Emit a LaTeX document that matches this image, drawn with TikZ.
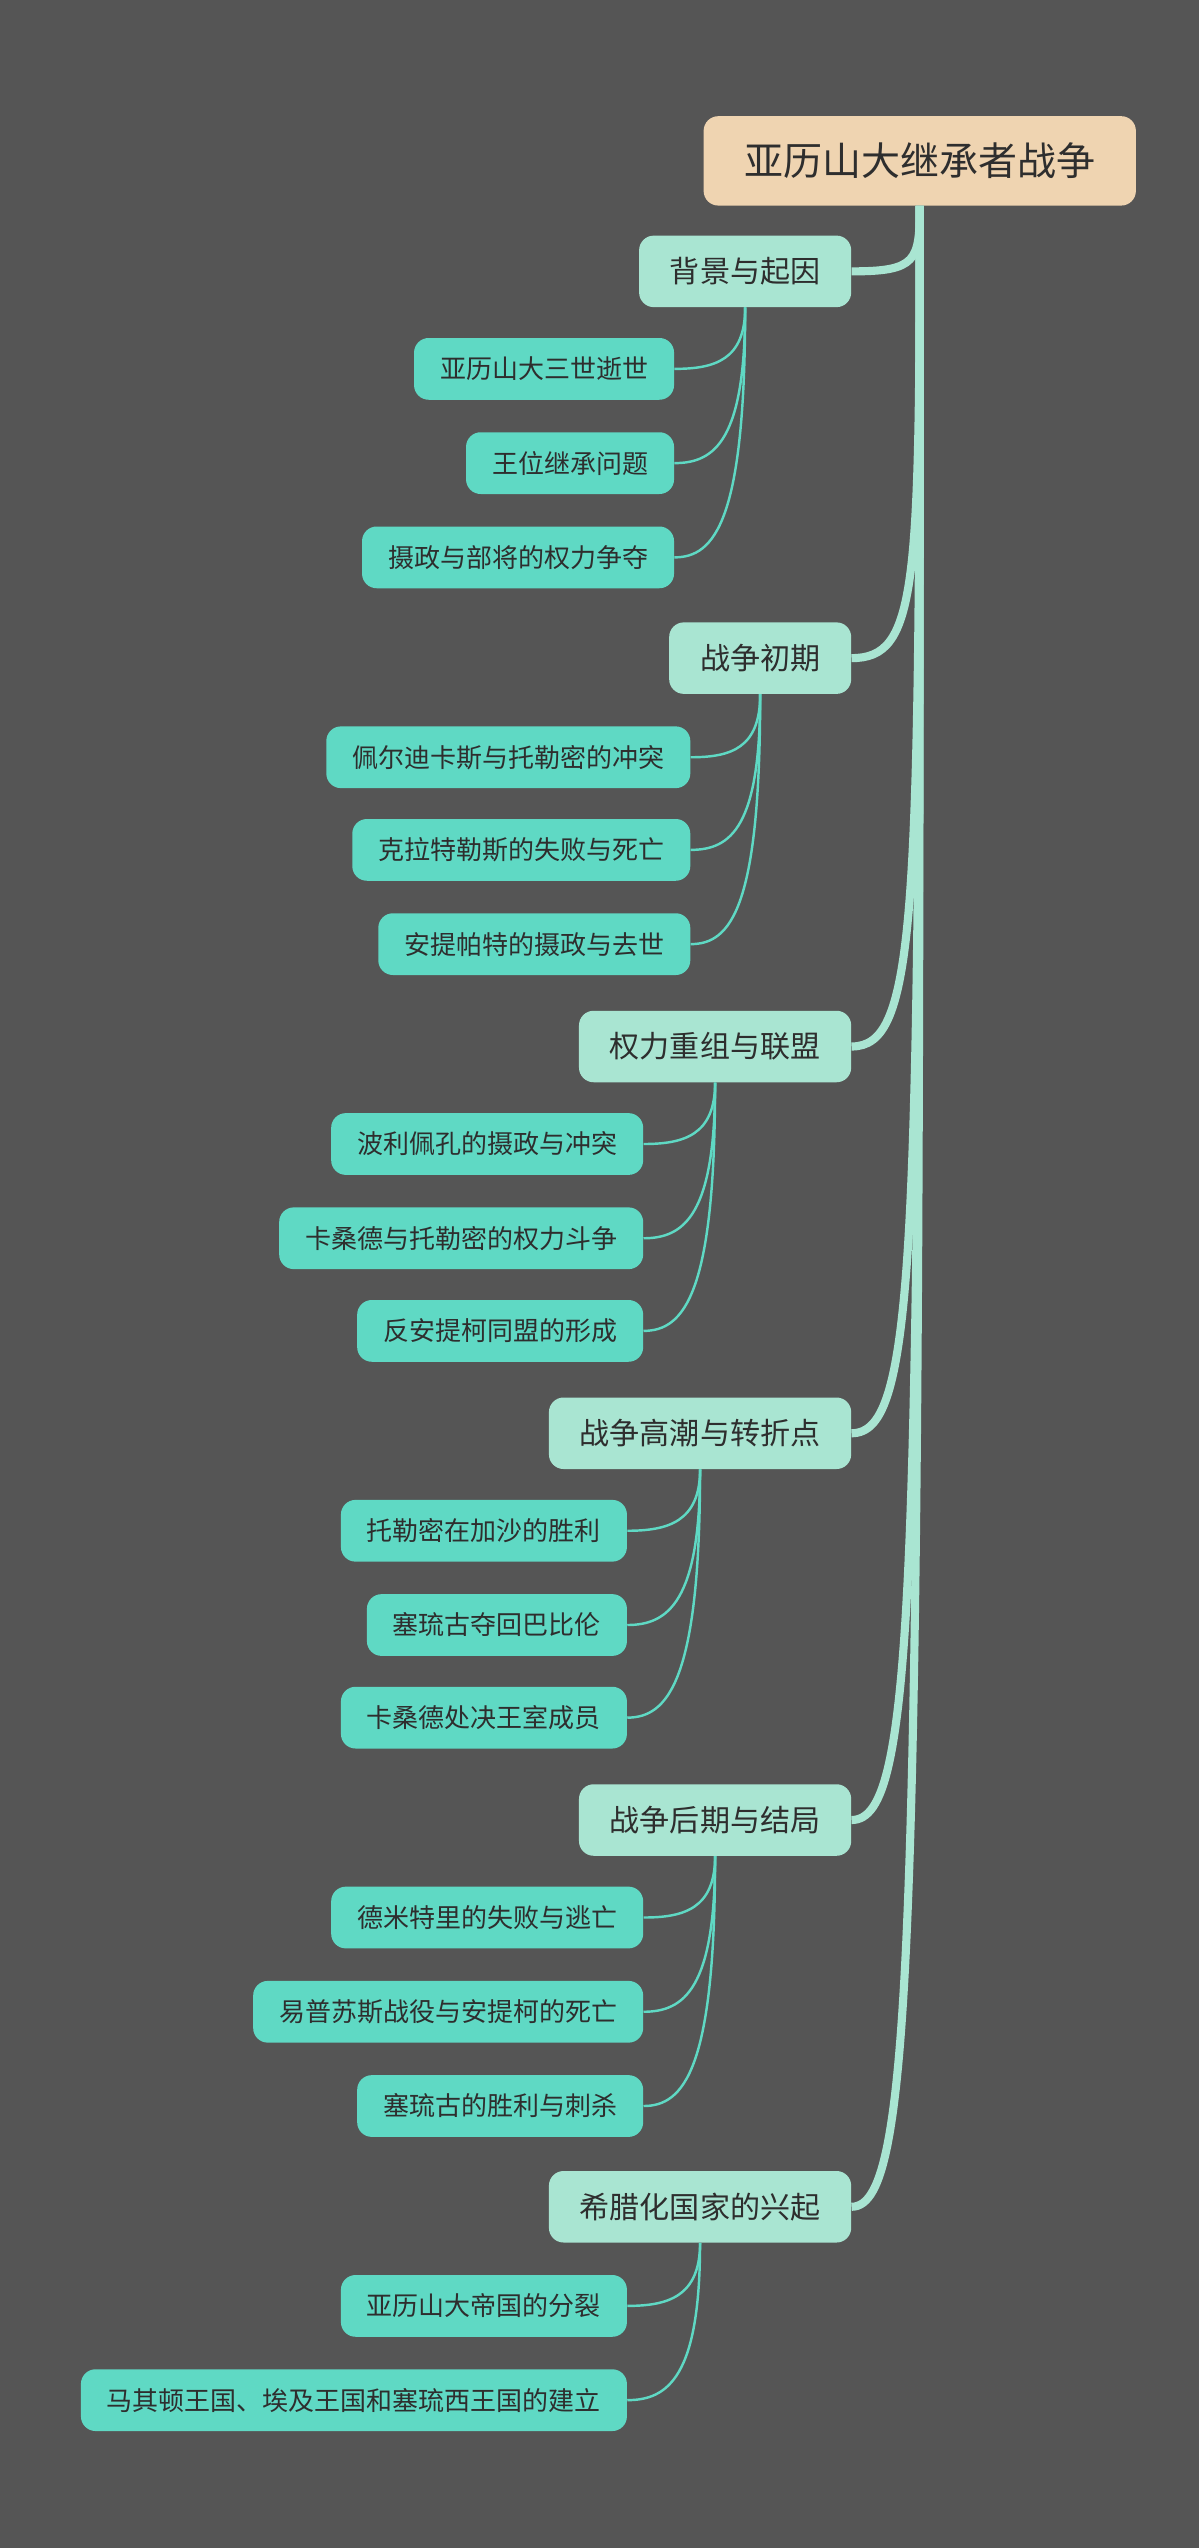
\documentclass[tikz,border=0pt]{standalone}
\usepackage{fontspec}
\newfontfamily\cjk{Noto Sans CJK SC}
\begin{document}
\begin{tikzpicture}[x=1pt,y=-1pt,
 rootbox/.style={fill=rootc,rounded corners=9pt,minimum height=55pt,inner xsep=25pt,font=\cjk\fontsize{24}{28}\selectfont,text=txt,anchor=center},
 brbox/.style={fill=brc,rounded corners=9pt,minimum height=44pt,inner xsep=19pt,font=\cjk\fontsize{18.5}{22}\selectfont,text=txt,anchor=east},
 leafbox/.style={fill=leafc,rounded corners=9pt,minimum height=38pt,inner xsep=16pt,font=\cjk\fontsize{16}{19}\selectfont,text=txt,anchor=east},
 thick line/.style={draw=brc,line width=5pt},
 leaf line/.style={draw=leafc,line width=1.5pt}]
\definecolor{bg}{HTML}{555555}
\definecolor{rootc}{HTML}{EFD4B1}
\definecolor{brc}{HTML}{A9E5D2}
\definecolor{leafc}{HTML}{5FD9C4}
\definecolor{txt}{HTML}{2E2E2E}
\fill[bg] (0,0) rectangle (738,1568);
\useasboundingbox (0,0) rectangle (738,1568);
\node[rootbox] (root) at (566,99) {亚历山大继承者战争};
\foreach \n/\cy/\t in {1/167/背景与起因,2/405/战争初期,3/644/权力重组与联盟,4/882/战争高潮与转折点,5/1120/战争后期与结局,6/1358/希腊化国家的兴起}{
  \node[brbox] (b\n) at (524,\cy) {\t};
}
\foreach \n/\cy in {1/167,2/405,3/644,4/882,5/1120,6/1358}{
  \pgfmathsetmacro\d{(\cy-127)*0.85}
  \draw[thick line] (root.south) .. controls +(0,\d) and +(40,0) .. (b\n.east);
}
\foreach \b/\k/\r/\cy/\t in {
 1/1/415/227/亚历山大三世逝世,1/2/415/285/王位继承问题,1/3/415/343/摄政与部将的权力争夺,
 2/1/425/466/佩尔迪卡斯与托勒密的冲突,2/2/425/523/克拉特勒斯的失败与死亡,2/3/425/581/安提帕特的摄政与去世,
 3/1/396/704/波利佩孔的摄政与冲突,3/2/396/762/卡桑德与托勒密的权力斗争,3/3/396/819/反安提柯同盟的形成,
 4/1/386/942/托勒密在加沙的胜利,4/2/386/1000/塞琉古夺回巴比伦,4/3/386/1057/卡桑德处决王室成员,
 5/1/396/1180/德米特里的失败与逃亡,5/2/396/1238/易普苏斯战役与安提柯的死亡,5/3/396/1296/塞琉古的胜利与刺杀,
 6/1/386/1419/亚历山大帝国的分裂,6/2/386/1477/马其顿王国、埃及王国和塞琉西王国的建立}{
  \node[leafbox] (l\b\k) at (\r,\cy) {\t};
  \draw[leaf line] (b\b.south) .. controls +(0,{(\cy-22-\cy/1000)*0+ 0}) and +(0,0) .. (b\b.south);
}
\foreach \b/\k/\cy/\by in {1/1/227/189,1/2/285/189,1/3/343/189,2/1/466/427,2/2/523/427,2/3/581/427,
 3/1/704/666,3/2/762/666,3/3/819/666,4/1/942/904,4/2/1000/904,4/3/1057/904,
 5/1/1180/1142,5/2/1238/1142,5/3/1296/1142,6/1/1419/1380,6/2/1477/1380}{
  \pgfmathsetmacro\d{(\cy-\by)*0.85}
  \draw[leaf line] (b\b.south) .. controls +(0,\d) and +(25,0) .. (l\b\k.east);
}
\end{tikzpicture}
\end{document}
